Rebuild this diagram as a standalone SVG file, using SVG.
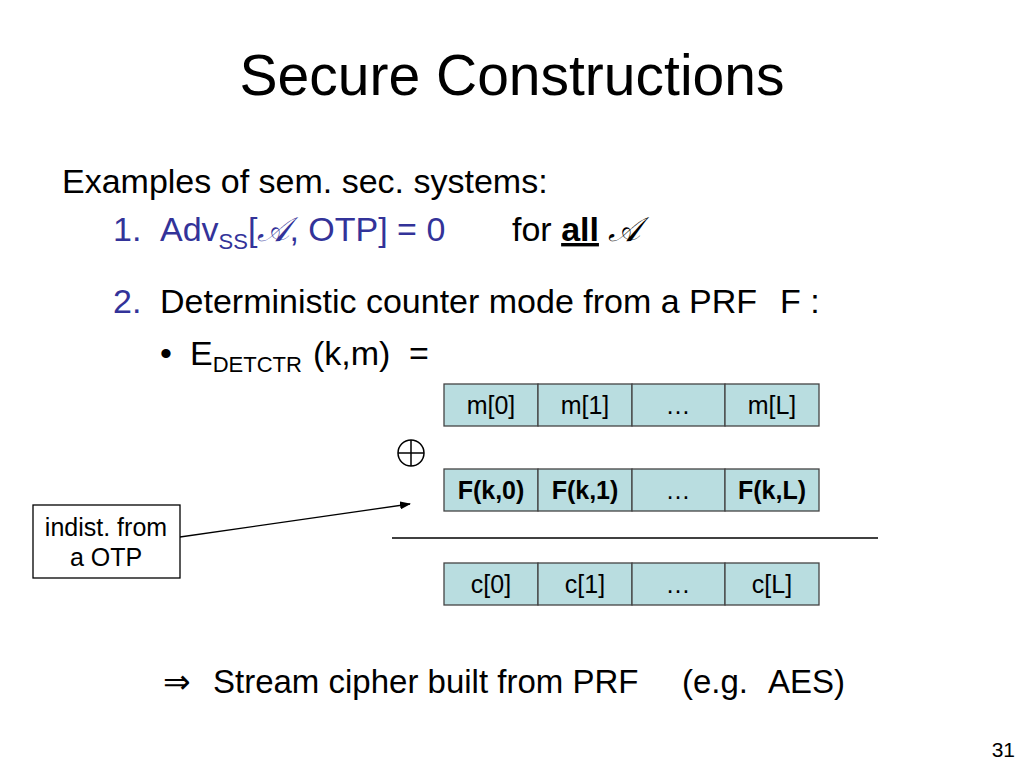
<svg xmlns="http://www.w3.org/2000/svg" width="1024" height="768" viewBox="0 0 1024 768">
<style>
text{font-family:"Liberation Sans",Arial,sans-serif;fill:#000}
.t{font-size:34px}
.s{font-size:33px}
.b{fill:#333399}
.cell{fill:#b9dde0;stroke:#444;stroke-width:1.3}
.ct{font-size:25px;text-anchor:middle}
.bold{font-weight:bold}
.scr{font-family:"DejaVu Serif","Liberation Serif",serif;font-style:italic}
</style>
<defs>
<marker id="ah" markerWidth="11" markerHeight="8" refX="10" refY="4" orient="auto" markerUnits="userSpaceOnUse">
<path d="M0,0 L11,4 L0,8 z" fill="#000"/>
</marker>
</defs>
<rect width="1024" height="768" fill="#fff"/>
<text x="512" y="95" font-size="57" text-anchor="middle">Secure Constructions</text>
<text class="t" x="62" y="193">Examples of sem. sec. systems:</text>
<text class="t b" x="113" y="241">1.</text>
<text class="t b" x="160" y="241">Adv<tspan font-size="22" dy="8">SS</tspan><tspan dy="-8">[</tspan><tspan class="scr b">𝒜</tspan>, OTP] = 0</text>
<text class="t" x="512" y="241">for <tspan class="bold" text-decoration="underline">all</tspan> <tspan class="scr">𝒜</tspan></text>
<text class="t b" x="113" y="313">2.</text>
<text class="t" x="160" y="313">Deterministic counter mode from a PRF</text>
<text class="t" x="780" y="313">F :</text>
<text class="t" x="160" y="365">•</text>
<text class="t" x="190" y="365">E<tspan font-size="22" dy="7">DETCTR</tspan></text>
<text class="t" x="313" y="365">(k,m)</text>
<text class="t" x="409" y="365">=</text>

<g id="row-m">
<rect class="cell" x="444" y="384" width="94" height="42"/>
<rect class="cell" x="538" y="384" width="94" height="42"/>
<rect class="cell" x="632" y="384" width="93" height="42"/>
<rect class="cell" x="725" y="384" width="94" height="42"/>
<text class="ct" x="491" y="414">m[0]</text>
<text class="ct" x="585" y="414">m[1]</text>
<text class="ct" x="678" y="414">…</text>
<text class="ct" x="772" y="414">m[L]</text>
</g>
<g id="xor">
<circle cx="411" cy="453" r="13" fill="none" stroke="#000" stroke-width="1.5"/>
<line x1="398" y1="453" x2="424" y2="453" stroke="#000" stroke-width="1.5"/>
<line x1="411" y1="440" x2="411" y2="466" stroke="#000" stroke-width="1.5"/>
</g>
<g id="row-f">
<rect class="cell" x="444" y="469" width="94" height="42"/>
<rect class="cell" x="538" y="469" width="94" height="42"/>
<rect class="cell" x="632" y="469" width="93" height="42"/>
<rect class="cell" x="725" y="469" width="94" height="42"/>
<text class="ct bold" x="491" y="499">F(k,0)</text>
<text class="ct bold" x="585" y="499">F(k,1)</text>
<text class="ct" x="678" y="499">…</text>
<text class="ct bold" x="772" y="499">F(k,L)</text>
</g>
<g id="row-c">
<rect class="cell" x="444" y="563" width="94" height="42"/>
<rect class="cell" x="538" y="563" width="94" height="42"/>
<rect class="cell" x="632" y="563" width="93" height="42"/>
<rect class="cell" x="725" y="563" width="94" height="42"/>
<text class="ct" x="491" y="593">c[0]</text>
<text class="ct" x="585" y="593">c[1]</text>
<text class="ct" x="678" y="593">…</text>
<text class="ct" x="772" y="593">c[L]</text>
</g>
<g id="note">
<rect x="33" y="505" width="147" height="73" fill="#fff" stroke="#000" stroke-width="1.3"/>
<text x="106" y="536" font-size="25" text-anchor="middle">indist. from</text>
<text x="106" y="566" font-size="25" text-anchor="middle">a OTP</text>
</g>
<g id="connectors">
<line x1="180" y1="537" x2="410" y2="504" stroke="#000" stroke-width="1.3" marker-end="url(#ah)"/>
<line x1="392" y1="538" x2="878" y2="538" stroke="#000" stroke-width="1.3"/>
</g>
<text class="s" x="163" y="693">⇒</text>
<text class="s" x="213" y="693">Stream cipher built from PRF</text>
<text class="s" x="682" y="693">(e.g.</text>
<text class="s" x="768" y="693">AES)</text>
<text x="1015" y="757" font-size="21" text-anchor="end">31</text>
</svg>
